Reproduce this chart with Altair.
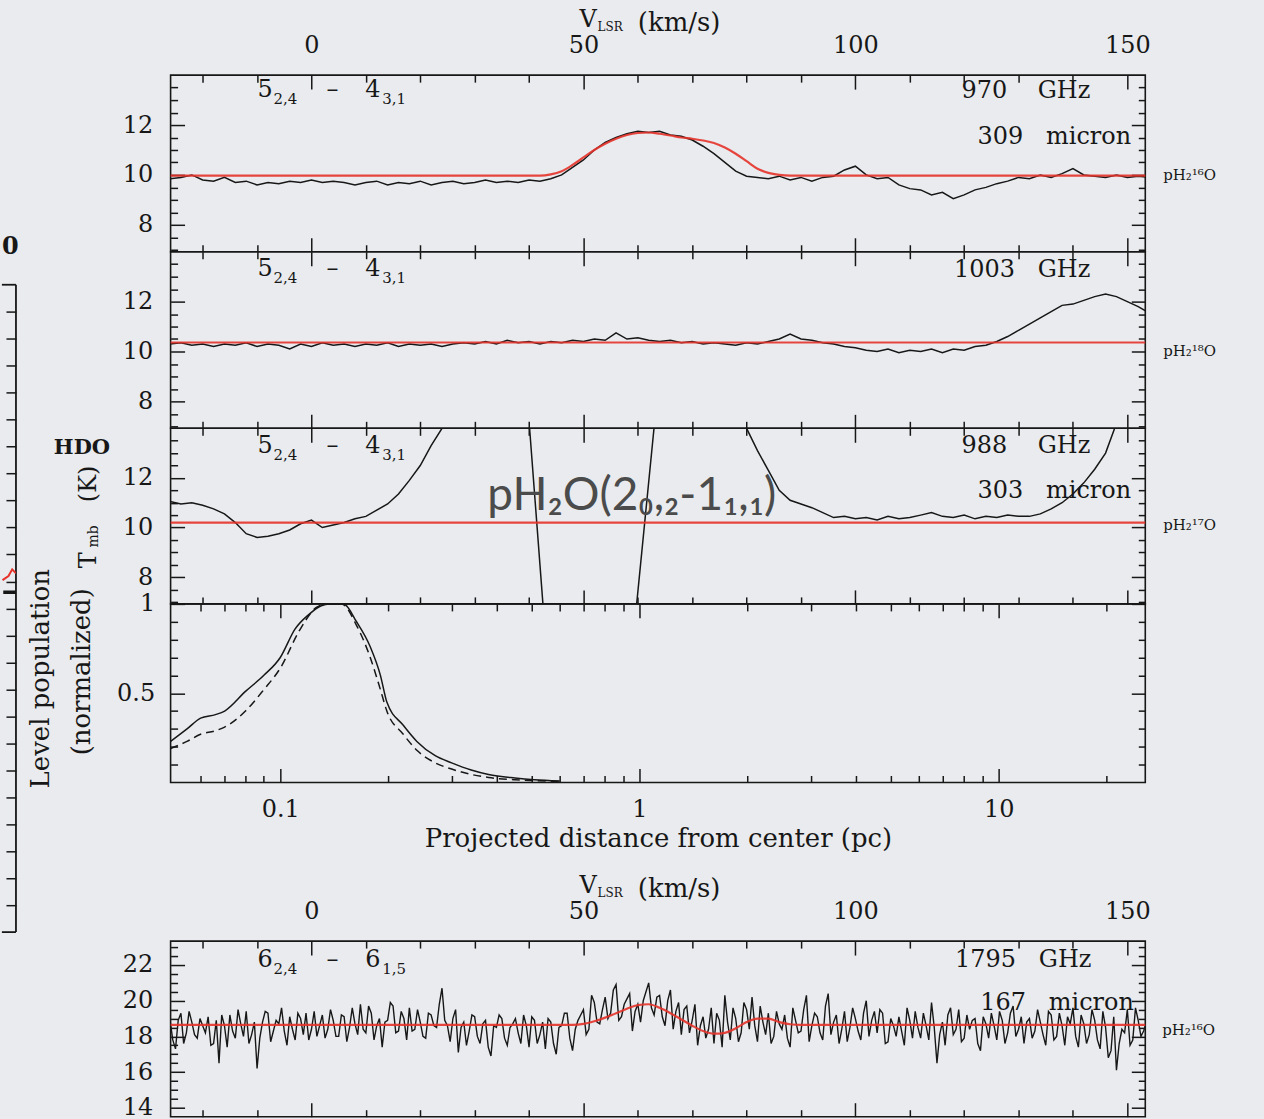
import altair as alt
import pandas as pd

# ---------------- style ----------------
FONT = "DejaVu Serif"
INK = "#171717"
RED = "#e5332a"
BG = "#e9ebee"
LAB = 24
MAJ = 14
MNR = 7
PW = 977
SP = "\u00a0"

# ---------------- velocity axis (km/s) ----------------
vel_domain = [-25.9, 153.3]
vel_major = [0, 50, 100, 150]
vel_minor = [-20, -10, 10, 20, 30, 40, 60, 70, 80, 90, 110, 120, 130, 140]

tmb_domain = [6.92, 14.0]
tmb_major = [8, 10, 12]
tmb_minor = [7, 7.5, 8.5, 9, 9.5, 10.5, 11, 11.5, 12.5, 13, 13.5]

# ---------------- 970 GHz spectrum (channels every 2 km/s from -26) ----------------
t970 = [
    9.85, 9.9, 10.0, 9.8, 9.75, 9.9, 9.7, 9.75, 9.6, 9.7,
    9.65, 9.75, 9.7, 9.8, 9.7, 9.75, 9.7, 9.6, 9.7, 9.75,
    9.6, 9.7, 9.65, 9.75, 9.6, 9.7, 9.75, 9.65, 9.7, 9.8,
    9.7, 9.75, 9.7, 9.8, 9.75, 9.85, 10.0, 10.3, 10.6, 11.0,
    11.3, 11.5, 11.65, 11.75, 11.7, 11.75, 11.6, 11.55, 11.4, 11.15,
    10.85, 10.5, 10.15, 9.95, 9.9, 9.85, 9.95, 9.8, 9.9, 9.75,
    9.9, 9.95, 10.2, 10.35, 10.0, 9.85, 9.9, 9.6, 9.45, 9.4,
    9.2, 9.3, 9.05, 9.2, 9.4, 9.5, 9.65, 9.75, 9.9, 9.85,
    10.0, 9.9, 10.05, 10.25, 10.0, 9.95, 9.9, 10.0, 9.9, 9.95,
    9.9,
]
model970_v = [-26, 42, 44, 46, 48, 50, 52, 54, 56, 58, 60, 62, 64, 66, 68, 70, 72, 74, 76, 78,
              80, 82, 84, 86, 88, 154]
model970_t = [9.97, 9.97, 10.02, 10.15, 10.4, 10.7, 11.0, 11.25, 11.45, 11.6, 11.68, 11.7, 11.65,
              11.58, 11.5, 11.45, 11.38, 11.28, 11.1, 10.85, 10.55, 10.25, 10.08, 10.0, 9.97, 9.97]

# ---------------- 1003 GHz spectrum ----------------
t1003 = [
    10.3, 10.35, 10.25, 10.3, 10.2, 10.3, 10.25, 10.35, 10.2, 10.3,
    10.25, 10.1, 10.3, 10.2, 10.35, 10.25, 10.3, 10.2, 10.3, 10.25,
    10.35, 10.2, 10.3, 10.25, 10.3, 10.2, 10.3, 10.35, 10.3, 10.4,
    10.3, 10.45, 10.35, 10.4, 10.3, 10.4, 10.35, 10.45, 10.4, 10.5,
    10.45, 10.75, 10.5, 10.55, 10.45, 10.4, 10.45, 10.35, 10.4, 10.3,
    10.35, 10.3, 10.25, 10.35, 10.3, 10.4, 10.5, 10.7, 10.5, 10.45,
    10.35, 10.3, 10.2, 10.15, 10.05, 10.0, 10.1, 9.95, 10.05, 10.0,
    10.1, 9.95, 10.1, 10.05, 10.2, 10.25, 10.4, 10.6, 10.85, 11.1,
    11.35, 11.6, 11.85, 11.9, 12.05, 12.2, 12.3, 12.2, 12.0, 11.8,
    11.55,
]
model1003_v = [-26, 154]
model1003_t = [10.36, 10.36]

# ---------------- 988 GHz spectrum ----------------
v988 = [-26, -24, -22, -20, -18, -16, -14, -12, -10, -8, -6, -4, -2, 0, 2, 4, 6, 8, 10, 12,
        14, 16, 18, 20, 22, 24, 26, 30, 36, 39, 40, 42.7, 50, 59.6, 63.2, 70, 78,
        80, 82, 84, 86, 88, 90, 92, 94, 96, 98, 100, 102, 104, 106, 108, 110, 112, 114, 116,
        118, 120, 122, 124, 126, 128, 130, 132, 134, 136, 138, 140, 142, 144, 146, 148, 150, 154]
t988 = [11.05, 10.95, 11.0, 10.9, 10.75, 10.55, 10.2, 9.75, 9.6, 9.65, 9.75, 9.9, 10.15, 10.3,
        10.0, 10.1, 10.2, 10.35, 10.45, 10.7, 10.95, 11.35, 11.9, 12.5, 13.3, 14.0, 14.8,
        16.0, 17.0, 15.5, 14.3, 6.5, 4.0, 6.5, 14.5, 17.0, 15.0,
        14.0, 13.1, 12.3, 11.5, 11.1, 10.95, 10.8, 10.6, 10.4, 10.45,
        10.35, 10.4, 10.3, 10.45, 10.35, 10.4, 10.5, 10.6, 10.45, 10.4,
        10.5, 10.35, 10.45, 10.4, 10.5, 10.45, 10.45, 10.55, 10.75, 11.0,
        11.35, 11.8, 12.35, 13.0, 14.2, 15.5, 17.0]
model988_v = [-26, 154]
model988_t = [10.2, 10.2]

# ---------------- level populations vs projected distance ----------------
dist_domain = [0.0495, 25.6]
dist_major = [0.1, 1, 10]
dist_minor = [0.06, 0.07, 0.08, 0.09, 0.2, 0.3, 0.4, 0.5, 0.6, 0.7, 0.8, 0.9,
              2, 3, 4, 5, 6, 7, 8, 9, 20]
pop_domain = [0, 1]
pop_major = [0.5, 1]
pop_minor = [0.1, 0.2, 0.3, 0.4, 0.6, 0.7, 0.8, 0.9]
pop_solid_x = [0.0495, 0.055, 0.060, 0.066, 0.070, 0.080, 0.090, 0.100, 0.110, 0.120, 0.130,
               0.137, 0.150, 0.163, 0.178, 0.190, 0.198, 0.22, 0.24, 0.27, 0.30, 0.34, 0.38,
               0.45, 0.51, 0.60]
pop_solid_y = [0.23, 0.30, 0.36, 0.38, 0.40, 0.51, 0.60, 0.70, 0.86, 0.94, 0.99, 1.0, 1.0,
               0.90, 0.76, 0.60, 0.45, 0.32, 0.23, 0.15, 0.11, 0.07, 0.045, 0.025, 0.015, 0.008]
pop_dash_x = [0.0495, 0.055, 0.060, 0.066, 0.070, 0.080, 0.090, 0.100, 0.113, 0.126, 0.135,
              0.148, 0.163, 0.178, 0.190, 0.198, 0.22, 0.24, 0.27, 0.30, 0.34, 0.38, 0.45,
              0.51, 0.60]
pop_dash_y = [0.19, 0.23, 0.27, 0.29, 0.31, 0.40, 0.52, 0.64, 0.85, 0.98, 1.0, 1.0, 0.88,
              0.70, 0.52, 0.40, 0.27, 0.18, 0.11, 0.075, 0.045, 0.028, 0.015, 0.01, 0.005]

# ---------------- 1795 GHz spectrum (channels every 0.5 km/s) ----------------
t1795_domain = [13.5, 23.34]
t1795_major = [14, 16, 18, 20, 22]
t1795_minor = [14.5, 15, 15.5, 16.5, 17, 17.5, 18.5, 19, 19.5, 20.5, 21, 21.5, 22.5, 23]
# whole-km/s channels, from -26
t1795 = [
    18.9, 17.3, 19.3, 18.2, 18.8, 17.9, 18.6, 19.1, 17.6, 16.5,
    18.6, 19.2, 17.9, 18.7, 19.4, 18.1, 16.2, 18.8, 19.3, 18.3,
    18.7, 18.3, 19.1, 17.8, 19.0, 19.3, 18.4, 18.0, 19.2, 18.4,
    18.9, 18.0, 19.1, 18.5, 18.7, 19.8, 18.2, 19.3, 18.6, 17.4,
    18.9, 19.7, 18.3, 19.0, 19.6, 18.4, 18.8, 17.9, 19.2, 18.5,
    20.7, 18.6, 19.0, 17.1, 18.8, 18.3, 19.1, 17.6, 18.9, 16.9,
    18.5, 19.0, 17.5, 18.7, 18.2, 19.2, 17.4, 18.9, 18.1, 17.3,
    18.8, 17.0, 18.6, 19.3, 17.2, 18.9, 19.5, 18.4, 19.9, 18.7,
    20.2, 19.3, 20.9, 19.1, 20.1, 18.3, 19.8, 20.0, 21.0, 19.2,
    20.3, 18.6, 20.6, 19.4, 18.1, 19.7, 18.9, 17.5, 19.1, 18.4,
    17.6, 18.9, 20.3, 17.8, 19.0, 18.2, 19.5, 20.2, 17.7, 18.8,
    19.3, 18.0, 18.7, 19.2, 17.4, 18.9, 18.3, 20.3, 18.6, 19.1,
    17.8, 20.4, 18.8, 17.6, 19.4, 18.5, 19.0, 17.8, 20.0, 18.9,
    18.2, 19.3, 17.7, 18.6, 19.1, 17.5, 18.9, 19.4, 17.9, 18.6,
    19.9, 16.5, 18.8, 19.2, 18.1, 19.5, 17.9, 18.4, 19.0, 17.2,
    18.7, 19.3, 17.8, 18.9, 18.2, 19.7, 18.4, 17.6, 19.0, 18.3,
    18.8, 17.5, 19.2, 18.0, 18.6, 19.1, 19.6, 17.4, 18.7, 18.1,
    18.9, 17.3, 18.5, 17.2, 16.1, 18.4, 19.5, 17.8, 18.9, 18.3,
]
# half-km/s channels, from -25.5
t1795_half = [
    17.8, 18.9, 17.6, 19.4, 18.1, 19.0, 18.2, 17.5, 18.9, 19.2,
    17.4, 18.3, 19.5, 18.0, 17.6, 18.8, 17.9, 19.4, 17.7, 18.9,
    19.6, 17.5, 18.4, 19.3, 18.1, 17.8, 19.4, 18.6, 17.9, 19.5,
    18.0, 19.2, 17.7, 19.6, 18.1, 18.4, 19.7, 17.8, 19.0, 18.8,
    19.9, 18.2, 19.4, 17.8, 18.3, 19.5, 18.0, 19.3, 18.6, 19.8,
    18.9, 17.7, 19.5, 18.5, 17.5, 19.2, 18.0, 18.7, 17.4, 18.6,
    19.2, 17.9, 18.5, 19.0, 17.6, 18.6, 19.1, 17.6, 18.8, 19.0,
    17.6, 18.5, 19.3, 17.9, 18.4, 19.2, 18.1, 20.3, 18.8, 19.5,
    19.0, 20.6, 18.9, 19.8, 20.4, 19.4, 18.8, 20.5, 19.6, 20.2,
    19.1, 20.0, 18.4, 19.9, 19.5, 18.2, 19.8, 18.6, 17.9, 19.6,
    19.3, 17.4, 18.8, 19.6, 17.7, 19.9, 18.4, 18.6, 19.7, 18.1,
    17.6, 19.4, 18.4, 17.9, 19.6, 18.2, 19.5, 17.7, 19.3, 18.2,
    19.7, 18.1, 19.2, 18.4, 17.7, 19.6, 18.3, 19.3, 18.0, 19.4,
    19.5, 17.6, 19.0, 18.0, 18.3, 19.6, 17.9, 18.5, 19.3, 17.8,
    18.5, 18.1, 17.5, 19.6, 18.4, 17.7, 19.2, 18.9, 17.6, 19.1,
    17.9, 18.6, 19.4, 17.6, 19.3, 18.0, 19.1, 18.8, 17.9, 19.5,
    18.1, 19.4, 17.8, 19.3, 17.5, 18.7, 18.0, 19.2, 17.6, 19.5,
    17.8, 19.4, 16.8, 19.1, 17.6, 18.2, 17.5, 19.6, 18.0, 18.8,
]
model1795_v = [-26, 48, 50, 52, 54, 56, 58, 60, 62, 64, 66, 68, 70, 72, 74, 76, 78, 80, 82,
               84, 86, 88, 90, 154]
model1795_t = [18.65, 18.65, 18.7, 18.85, 19.05, 19.3, 19.55, 19.75, 19.8, 19.6, 19.3, 18.95,
               18.6, 18.3, 18.15, 18.2, 18.45, 18.8, 19.0, 19.0, 18.8, 18.68, 18.65, 18.65]

# ---------------- cropped neighbouring panel at the left edge ----------------
strip_y_domain = [0, 31.77]
strip_frame = [0, 24]
strip_ticks = list(range(1, 24))
strip_red_x = [0.1, 0.5, 0.75, 1.0]
strip_red_y = [13.05, 13.2, 13.45, 13.3]
strip_black_x = [0.15, 1.0]
strip_black_y = [12.6, 12.6]

v970 = [-26 + 2 * i for i in range(len(t970))]
v1003 = [-26 + 2 * i for i in range(len(t1003))]
v1795_all = [-26 + i for i in range(len(t1795))] + [-25.5 + i for i in range(len(t1795_half))]
t1795_all = t1795 + t1795_half


# ---------------- helpers ----------------
def sc(domain, log=False):
    if log:
        return alt.Scale(type="log", domain=domain, nice=False)
    return alt.Scale(domain=domain, nice=False, zero=False)


def tick_axis(orient, values, size, labels=False, fmt="d", pad=18, title=None, **extra):
    kw = dict(orient=orient, values=values, tickSize=size, offset=-size,
              domain=False, grid=False, ticks=True, tickColor=INK, tickWidth=1.5,
              labels=labels, title=title)
    if labels:
        kw.update(labelFont=FONT, labelFontSize=LAB, labelColor=INK, labelPadding=pad,
                  labelFlush=False, labelOverlap=False, format=fmt)
    kw.update(extra)
    return alt.Axis(**kw)


def frame(xs, ys, xdom, ydom, xmaj, xmin, ymaj, ymin, yfmt="d", xfmt="d",
          top_labels=False, bottom_labels=False, bottom_title=None, ypad=18):
    anchor = pd.DataFrame({"ax": [xdom[0]], "ay": [ydom[0]]})

    def lay(xa, ya):
        return alt.Chart(anchor).mark_point(opacity=0).encode(
            x=alt.X("ax:Q", scale=xs, axis=xa),
            y=alt.Y("ay:Q", scale=ys, axis=ya))

    bkw = {}
    if bottom_title:
        bkw = dict(titleFont=FONT, titleFontSize=26, titleColor=INK,
                   titleFontWeight="normal", titlePadding=4)
    return [
        lay(tick_axis("bottom", xmaj, MAJ, labels=bottom_labels, fmt=xfmt, pad=15,
                      title=bottom_title, **bkw),
            tick_axis("left", ymaj, MAJ, labels=True, fmt=yfmt, pad=ypad)),
        lay(tick_axis("top", xmaj, MAJ, labels=top_labels, fmt=xfmt, pad=18),
            tick_axis("right", ymaj, MAJ)),
        lay(tick_axis("bottom", xmin, MNR), tick_axis("left", ymin, MNR)),
        lay(tick_axis("top", xmin, MNR), tick_axis("right", ymin, MNR)),
    ]


def curve(xv, yv, xs, ys, color, width, dash=None, interp="linear", opacity=1.0):
    df = pd.DataFrame({"x": xv, "y": yv})
    mk = dict(color=color, strokeWidth=width, clip=True, interpolate=interp, opacity=opacity)
    if dash:
        mk["strokeDash"] = dash
    return alt.Chart(df).mark_line(**mk).encode(
        x=alt.X("x:Q", scale=xs, axis=None),
        y=alt.Y("y:Q", scale=ys, axis=None))


def label(rows, xs, ys, size=LAB, align="left", font=FONT, color=INK, weight="normal",
          angle=0, dy=0):
    df = pd.DataFrame(rows, columns=["x", "y", "t"])
    mk = dict(font=font, fontSize=size, align=align, baseline="middle", color=color,
              fontWeight=weight)
    if angle:
        mk["angle"] = angle
    if dy:
        mk["dy"] = dy
    return alt.Chart(df).mark_text(**mk).encode(
        x=alt.X("x:Q", scale=xs, axis=None),
        y=alt.Y("y:Q", scale=ys, axis=None),
        text="t:N")


def transition(xs, ys, yv, a, sa, b, sb):
    # upper level, subscript, dash, lower level, subscript
    mains = [(-9.9, yv, a), (2.75, yv, "–"), (9.9, yv, b)]
    subs = [(-7.0, yv, sa), (13.0, yv, sb)]
    return [label(mains, xs, ys), label(subs, xs, ys, size=15, dy=9)]


def vlsr(xs):
    parts = [(49.3, -55, "V", LAB), (52.6, -48, "LSR", 12), (60.0, -52, "(km/s)", 26)]
    out = []
    for xv, yp, txt, size in parts:
        df = pd.DataFrame({"x": [xv], "t": [txt]})
        out.append(alt.Chart(df).mark_text(font=FONT, fontSize=size, align="left",
                                           baseline="middle", color=INK)
                   .encode(x=alt.X("x:Q", scale=xs, axis=None), y=alt.value(yp), text="t:N"))
    return out


def panel(layers, h):
    return alt.layer(*layers).resolve_axis(x="independent", y="independent").properties(
        width=PW, height=h)


def freq(n, unit):
    return n + SP * 3 + " " + unit if len(n) == 3 and unit == "GHz" else n + SP * 2 + " " + unit


xs = sc(vel_domain)
ys = sc(tmb_domain)

p1 = panel([
    *frame(xs, ys, vel_domain, tmb_domain, vel_major, vel_minor, tmb_major, tmb_minor,
           top_labels=True),
    curve(v970, t970, xs, ys, INK, 1.5),
    curve(model970_v, model970_t, xs, ys, RED, 2.2, interp="monotone", opacity=0.9),
    *transition(xs, ys, 13.4, "5", "2,4", "4", "3,1"),
    label([(143.2, 13.38, freq("970", "GHz")), (150.7, 11.52, freq("309", "micron"))],
          xs, ys, align="right"),
    label([(156.6, 10.0, "pH₂¹⁶O")], xs, ys, size=15),
    *vlsr(xs),
], 177)

p2 = panel([
    *frame(xs, ys, vel_domain, tmb_domain, vel_major, vel_minor, tmb_major, tmb_minor),
    curve(v1003, t1003, xs, ys, INK, 1.5),
    curve(model1003_v, model1003_t, xs, ys, RED, 2.2, opacity=0.9),
    *transition(xs, ys, 13.3, "5", "2,4", "4", "3,1"),
    label([(143.2, 13.28, freq("1003", "GHz"))], xs, ys, align="right"),
    label([(156.6, 10.0, "pH₂¹⁸O")], xs, ys, size=15),
], 177)

p3 = panel([
    *frame(xs, ys, vel_domain, tmb_domain, vel_major, vel_minor, tmb_major, tmb_minor),
    curve(v988, t988, xs, ys, INK, 1.5),
    curve(model988_v, model988_t, xs, ys, RED, 2.2, opacity=0.9),
    *transition(xs, ys, 13.3, "5", "2,4", "4", "3,1"),
    label([(143.2, 13.28, freq("988", "GHz")), (150.7, 11.48, freq("303", "micron"))],
          xs, ys, align="right"),
    label([(156.6, 10.12, "pH₂¹⁷O")], xs, ys, size=15),
    label([(-42.2, 13.2, "HDO")], xs, ys, size=21, align="center", weight="bold"),
    label([(-40.9, 8.68, "T"), (-40.9, 11.76, "(K)")], xs, ys, align="center", angle=270),
    label([(-40.0, 9.64, "mb")], xs, ys, size=14, align="center", angle=270),
    label([(58.9, 11.28, "pH₂O(2₀,₂-1₁,₁)")], xs, ys, size=46, align="center",
          font="Lato", color="#4b4b4b"),
], 176)

xl = sc(dist_domain, log=True)
yl = sc(pop_domain)
p4 = panel([
    *frame(xl, yl, dist_domain, pop_domain, dist_major, dist_minor, pop_major, pop_minor,
           yfmt="~g", xfmt="~g", bottom_labels=True,
           bottom_title="Projected distance from center (pc)", ypad=16),
    curve(pop_solid_x, pop_solid_y, xl, yl, INK, 1.5, interp="monotone"),
    curve(pop_dash_x, pop_dash_y, xl, yl, INK, 1.5, dash=[8, 5], interp="monotone"),
    label([(0.02157, 0.581, "Level population"), (0.02802, 0.620, "(normalized)")],
          xl, yl, size=26, align="center", angle=270),
], 179)

spacer = alt.Chart(pd.DataFrame({"s": [0]})).mark_point(opacity=0).encode(
    x=alt.X("s:Q", axis=None), y=alt.Y("s:Q", axis=None)
).properties(width=PW, height=159, view=alt.ViewBackground(stroke="transparent"))

ys5 = sc(t1795_domain)
p5 = panel([
    *frame(xs, ys5, vel_domain, t1795_domain, vel_major, vel_minor, t1795_major, t1795_minor,
           top_labels=True),
    curve(v1795_all, t1795_all, xs, ys5, INK, 1.4),
    curve(model1795_v, model1795_t, xs, ys5, RED, 2.2, interp="monotone", opacity=0.9),
    *transition(xs, ys5, 22.3, "6", "2,4", "6", "1,5"),
    label([(143.4, 22.28, freq("1795", "GHz")), (151.2, 19.88, freq("167", "micron"))],
          xs, ys5, align="right"),
    label([(156.4, 18.37, "pH₂¹⁶O")], xs, ys5, size=15),
    *vlsr(xs),
], 176)

main = alt.vconcat(p1, p2, p3, p4, spacer, p5, spacing=0, bounds="flush").resolve_scale(
    x="independent", y="independent")

# cropped edge of the neighbouring figure
sx = alt.Scale(domain=[0, 1], nice=False, zero=False)
sy = sc(strip_y_domain)
s_anchor = pd.DataFrame({"ax": [0.5], "ay": [0]})
strip_axis = alt.Chart(s_anchor).mark_point(opacity=0).encode(
    x=alt.X("ax:Q", scale=sx, axis=None),
    y=alt.Y("ay:Q", scale=sy, axis=tick_axis("right", strip_ticks, 10)))
s_vert = alt.Chart(pd.DataFrame({"x": [1], "y": [strip_frame[0]], "y2": [strip_frame[1]]})).mark_rule(
    color=INK, strokeWidth=1.8).encode(
    x=alt.X("x:Q", scale=sx, axis=None), y=alt.Y("y:Q", scale=sy, axis=None), y2="y2:Q")
s_horiz = alt.Chart(pd.DataFrame({"x": [0.06, 0.06], "x2": [1, 1], "y": strip_frame})).mark_rule(
    color=INK, strokeWidth=1.8).encode(
    x=alt.X("x:Q", scale=sx, axis=None), x2="x2:Q", y=alt.Y("y:Q", scale=sy, axis=None))
strip = alt.layer(
    strip_axis, s_vert, s_horiz,
    curve(strip_red_x, strip_red_y, sx, sy, RED, 2),
    curve(strip_black_x, strip_black_y, sx, sy, INK, 3.5),
    label([(0.62, 25.4, "0")], sx, sy, size=24, align="center", weight="bold"),
).resolve_axis(y="independent").properties(
    width=15, height=859, view=alt.ViewBackground(stroke="transparent"))

chart = alt.hconcat(strip, main, spacing=155, bounds="flush").resolve_scale(
    x="independent", y="independent"
).properties(
    padding={"left": 0, "top": 6, "right": 47, "bottom": 1},
    background=BG,
).configure_view(stroke=INK, strokeWidth=1.6)

chart.save("out.html", embed_options={"renderer": "svg", "actions": False})
